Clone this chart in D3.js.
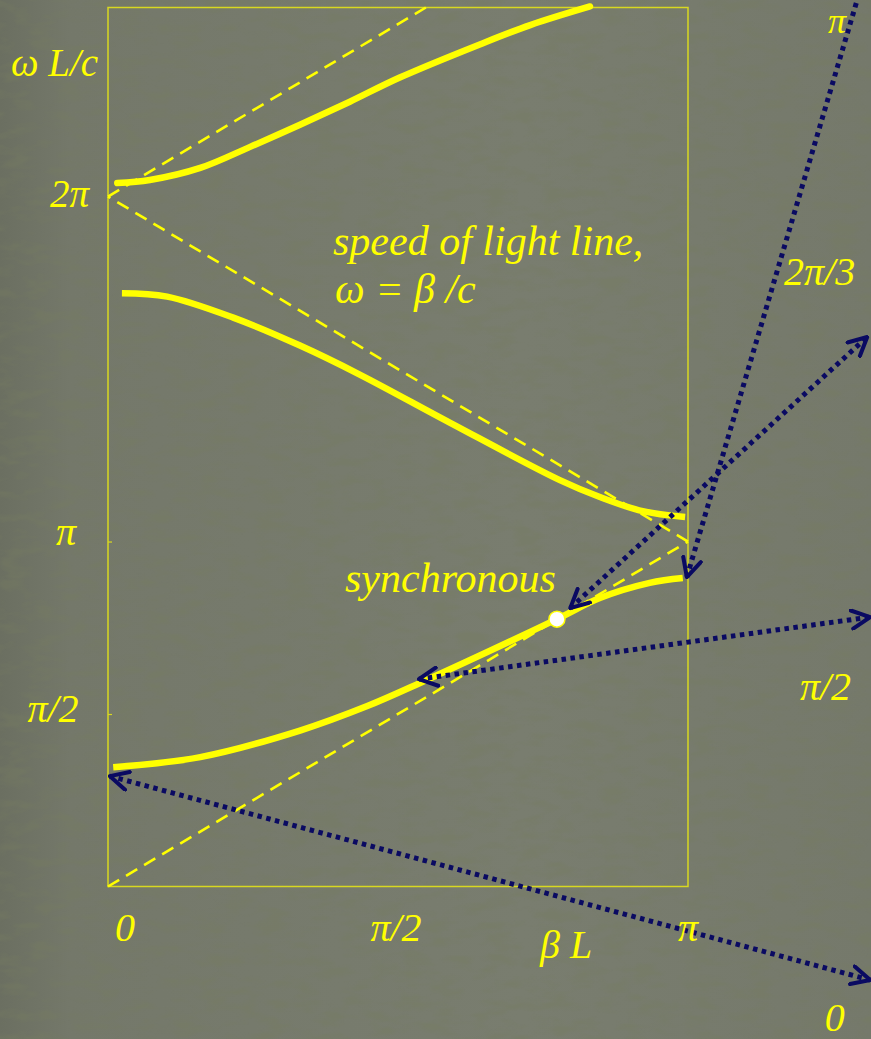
<!DOCTYPE html>
<html>
<head>
<meta charset="utf-8">
<script src="https://cdn.jsdelivr.net/npm/d3@7"></script>
<style>
  html, body { margin: 0; padding: 0; background: #75796b; }
  svg { display: block; }
  text { font-family: "Liberation Serif", "Times New Roman", serif; font-style: italic; fill: #ffff00; }
</style>
</head>
<body>
<svg id="chart" width="871" height="1039"></svg>
<script>
// Brillouin diagram of a periodic structure: ωL/c against βL (both in units of π).

// Passbands (βL/π, ωL/(cπ))
const band1 = [[0.009,0.346],[0.159,0.375],[0.331,0.452],[0.447,0.523],[0.538,0.590],
               [0.774,0.775],[0.848,0.836],[0.934,0.880],[0.991,0.894]];
const band2 = [[0.024,1.720],[0.102,1.710],[0.216,1.649],[0.331,1.568],[0.434,1.484],
               [0.590,1.344],[0.779,1.178],[0.848,1.129],[0.922,1.088],[0.995,1.071]];
const band3 = [[0.016,2.039],[0.072,2.048],[0.159,2.083],[0.245,2.144],[0.331,2.208],
               [0.417,2.275],[0.503,2.345],[0.641,2.441],[0.728,2.497],[0.831,2.551]];

// Speed-of-light lines, folded into the first zone
const lightLines = [[[0,0],[1,1]], [[1,1],[0,2]], [[0,2],[0.548,2.548]]];

// Synchronous point (band 1 crossing ω = β c)
const syncPoint = [0.774, 0.775];

// Phase-advance vectors per cell: [start, end, arrow at start, arrow at end]
const phaseLabels = ["0", "π/2", "2π/3", "π"];
const phaseVectors = [
  [[0.003,0.320],[1.314,-0.271], true, true],
  [[0.536,0.601],[1.314,0.781], true, true],
  [[0.797,0.807],[1.309,1.593], true, true],
  [[0.998,0.897],[1.297,2.600], true, false]
];
const phaseLabelPos = [[1.253,-0.418],[1.237,0.540],[1.227,1.745],[1.257,2.474]];

// Axis ticks and labels
const yTicks = [0.5, 1];
const xTickLabels = [["0", 0], ["π/2", 0.5], ["π", 1]];

const svg = d3.select("#chart");
const W = 871, H = 1039;

const x = d3.scaleLinear().domain([0, 1]).range([108, 688]);
const y = d3.scaleLinear().domain([0, 2.548]).range([886.5, 7.5]);

// Background with a faint mottled texture
const defs = svg.append("defs");
const grad = defs.append("linearGradient").attr("id", "bg").attr("x1", 0).attr("x2", 1).attr("y1", 0).attr("y2", 0);
grad.append("stop").attr("offset", "0").attr("stop-color", "#6b6f61");
grad.append("stop").attr("offset", "0.08").attr("stop-color", "#74786a");
grad.append("stop").attr("offset", "0.6").attr("stop-color", "#797d6f");
grad.append("stop").attr("offset", "1").attr("stop-color", "#75796b");

const tex = defs.append("filter").attr("id", "tex").attr("x", 0).attr("y", 0).attr("width", 1).attr("height", 1);
tex.append("feTurbulence").attr("type", "fractalNoise").attr("baseFrequency", "0.035 0.09")
   .attr("numOctaves", 3).attr("seed", 7).attr("result", "n");
tex.append("feColorMatrix").attr("in", "n").attr("type", "matrix")
   .attr("values", "0 0 0 0 0.18  0 0 0 0 0.2  0 0 0 0 0.12  0 0 0 -3.4 1.85");

svg.append("rect").attr("width", W).attr("height", H).attr("fill", "url(#bg)");
svg.append("rect").attr("width", W).attr("height", H).attr("filter", "url(#tex)").attr("opacity", 0.4);

// Frame
svg.append("rect")
  .attr("x", x(0)).attr("y", y(2.548))
  .attr("width", x(1) - x(0)).attr("height", y(0) - y(2.548))
  .attr("fill", "none").attr("stroke", "#d8d820").attr("stroke-width", 1.5);

// Inward tick marks on the ω axis
const yAxis = d3.axisRight(y).tickValues(yTicks).tickSize(4).tickFormat("");
const ga = svg.append("g").attr("transform", `translate(${x(0)},0)`).call(yAxis);
ga.select(".domain").remove();
ga.selectAll(".tick line").attr("stroke", "#d8d820").attr("stroke-width", 1.2);

// Light lines
const line = d3.line().x(d => x(d[0])).y(d => y(d[1]));
svg.append("g").selectAll("path").data(lightLines).join("path")
  .attr("d", line)
  .attr("fill", "none").attr("stroke", "#ffff00").attr("stroke-width", 2.6)
  .attr("stroke-dasharray", "13 8");

// Passbands
const curve = d3.line().x(d => x(d[0])).y(d => y(d[1])).curve(d3.curveCatmullRom.alpha(0.5));
svg.append("g").selectAll("path").data([band1, band2, band3]).join("path")
  .attr("d", curve)
  .attr("fill", "none").attr("stroke", "#ffff00").attr("stroke-width", 6.5)
  .attr("stroke-linecap", (d, i) => i === 2 ? "round" : "butt");

// Phase-advance vectors
defs.append("marker").attr("id", "head")
  .attr("viewBox", "0 0 12 12").attr("refX", 11).attr("refY", 6)
  .attr("markerWidth", 22).attr("markerHeight", 22)
  .attr("markerUnits", "userSpaceOnUse")
  .attr("orient", "auto-start-reverse")
  .append("path").attr("d", "M1,1 L11,6 L1,11")
  .attr("fill", "none").attr("stroke", "#0a0a62").attr("stroke-width", 2.2)
  .attr("stroke-linecap", "round").attr("stroke-linejoin", "round");

svg.append("g").selectAll("path").data(phaseVectors).join("path")
  .attr("d", d => line([d[0], d[1]]))
  .attr("fill", "none").attr("stroke", "#0a0a62").attr("stroke-width", 5)
  .attr("stroke-dasharray", "4.5 4.5")
  .attr("marker-start", d => d[2] ? "url(#head)" : null)
  .attr("marker-end", d => d[3] ? "url(#head)" : null);

// Synchronous point
svg.append("circle")
  .attr("cx", x(syncPoint[0])).attr("cy", y(syncPoint[1])).attr("r", 8)
  .attr("fill", "#ffffff").attr("stroke", "#ffff00").attr("stroke-width", 1.5);

// ω-axis labels
const yLab = svg.append("g");
yLab.append("text").attr("x", 11).attr("y", 76).attr("font-size", 39).text("ω L/c");
yLab.append("text").attr("x", 89).attr("y", 207).attr("font-size", 39).attr("text-anchor", "end").text("2π");
yLab.append("text").attr("x", 66).attr("y", y(1) + 3).attr("font-size", 40).attr("text-anchor", "middle").text("π");
yLab.append("text").attr("x", 53).attr("y", y(0.5) + 8).attr("font-size", 40).attr("text-anchor", "middle").text("π/2");

// βL-axis labels
svg.append("g").selectAll("text").data(xTickLabels).join("text")
  .attr("x", d => x(d[1]) + (d[1] === 0 ? 17 : d[1] === 1 ? 0 : -2))
  .attr("y", 941)
  .attr("font-size", 40).attr("text-anchor", "middle")
  .text(d => d[0]);
svg.append("text").attr("x", 540).attr("y", 958).attr("font-size", 40).text("β L");

// Annotations
svg.append("text").attr("x", 333).attr("y", 255).attr("font-size", 42).text("speed of light line,");
svg.append("text").attr("x", 335).attr("y", 303).attr("font-size", 42).text("ω = β /c");
svg.append("text").attr("x", 345).attr("y", 592).attr("font-size", 42).text("synchronous");

// Phase labels (the top one slightly smaller so it stays inside the page)
svg.append("g").selectAll("text").data(phaseLabels).join("text")
  .attr("x", (d, i) => x(phaseLabelPos[i][0]))
  .attr("y", (d, i) => y(phaseLabelPos[i][1]))
  .attr("font-size", (d, i) => i === 3 ? 36 : 40).attr("text-anchor", "middle")
  .text(d => d);
</script>
</body>
</html>
